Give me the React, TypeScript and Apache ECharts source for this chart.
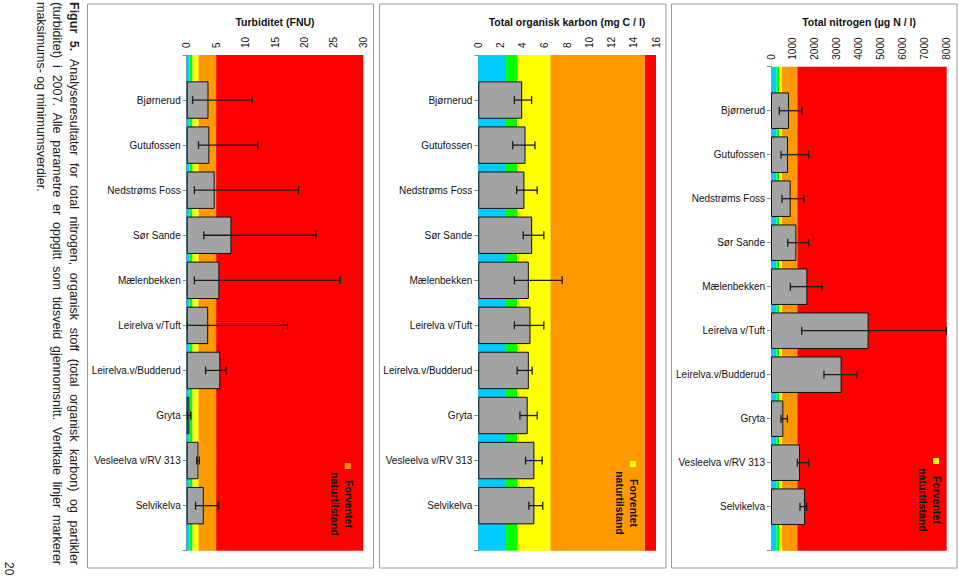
import React, { useEffect, useRef } from 'react';
import * as echarts from 'echarts';

const categories = ['Bjørnerud', 'Gutufossen', 'Nedstrøms Foss', 'Sør Sande', 'Mælenbekken', 'Leirelva v/Tuft', 'Leirelva.v/Budderud', 'Gryta', 'Vesleelva v/RV 313', 'Selvikelva'];

const turbMean = [3.7, 3.85, 4.75, 7.6, 5.55, 3.65, 5.7, 0.45, 2.0, 2.9];
const turbMin = [1.0, 2.0, 1.3, 2.9, 1.3, 0.1, 3.2, 0.1, 1.7, 1.5];
const turbMax = [11.1, 12.1, 19.0, 22.0, 26.1, 17.1, 6.7, 0.7, 2.15, 5.4];

const tocMean = [3.95, 4.25, 4.15, 4.85, 4.55, 4.7, 4.55, 4.45, 5.05, 5.05];
const tocMin = [3.25, 3.1, 3.45, 4.05, 3.25, 3.25, 3.5, 3.75, 4.25, 4.55];
const tocMax = [4.8, 5.1, 5.3, 5.9, 7.55, 5.9, 4.85, 5.3, 5.75, 5.8];

const tnMean = [820, 775, 895, 1155, 1655, 4445, 3215, 560, 1320, 1550];
const tnMin = [380, 455, 500, 760, 880, 1400, 2410, 455, 1200, 1320];
const tnMax = [1410, 1715, 1500, 1715, 2320, 7990, 3915, 745, 1715, 1625];

const turbClasses = [0, 0.5, 1, 2, 5, 30];
const tocClasses = [0, 2.5, 3.5, 6.5, 15, 16];
const tnClasses = [0, 250, 375, 500, 1200, 8000];
const classColors = ['#00CCFF', '#00FF00', '#FFFF00', '#FF9900', '#FF0000'];

const titles = ['Turbiditet (FNU)', 'Total organisk karbon (mg C / l)', 'Total nitrogen (µg N / l)'];
const axisMax = [30, 16, 8000];
const axisInterval = [5, 2, 1000];
const legendText = 'Forventet\nnaturtilstand';
const legendColors = ['#FF9900', '#FFFF00', '#FFFF00'];

const captionLines = [
  'Figur 5. Analyseresultater for total nitrogen, organisk stoff (total organisk karbon) og partikler',
  '(turbiditet) i 2007. Alle parametre er oppgitt som tidsveid gjennomsnitt. Vertikale linjer markerer',
  'maksimums- og minimumsverdier.',
];
const pageNumber = '20';

const FONT = "'Liberation Sans', Arial, sans-serif";

// layout (pixels)
const grids = [
  { left: 186.7, top: 55, width: 176.6, height: 495.7 },
  { left: 478.3, top: 55, width: 177.7, height: 495.7 },
  { left: 771, top: 66.7, width: 175.7, height: 484 },
];
const panelRects = [
  { x: 87.5, y: 4, width: 286, height: 564 },
  { x: 379.5, y: 4, width: 286.5, height: 564 },
  { x: 671.5, y: 4, width: 285.5, height: 564 },
];
const titlePos = [[275, 21.5], [567, 21.5], [859, 21.5]];
const legendSquare = [[347.7, 466], [633, 464], [936, 461]];
const legendTextPos = [[342, 504], [627, 503], [929.5, 500]];

export default function App() {
  const ref = useRef<HTMLDivElement>(null);
  useEffect(() => {
    if (!ref.current) return;
    const chart = echarts.init(ref.current, null, { renderer: 'svg' });

    const yData = ['', ...categories, ' '];
    const means = [turbMean, tocMean, tnMean];
    const mins = [turbMin, tocMin, tnMin];
    const maxs = [turbMax, tocMax, tnMax];
    const classes = [turbClasses, tocClasses, tnClasses];

    const series: any[] = [];
    for (let p = 0; p < 3; p++) {
      const cls = classes[p];
      series.push({
        type: 'bar',
        xAxisIndex: p,
        yAxisIndex: p,
        z: 2,
        barWidth: '83%',
        data: ['-', ...means[p], '-'],
        itemStyle: { color: '#A3A3A3', borderColor: '#111', borderWidth: 1 },
        markArea: {
          silent: true,
          z: 1,
          data: classColors.map((c, i) => [
            { xAxis: cls[i], itemStyle: { color: c, opacity: 1 } },
            { xAxis: cls[i + 1] },
          ]),
        },
      });
      series.push({
        type: 'custom',
        xAxisIndex: p,
        yAxisIndex: p,
        z: 3,
        encode: { x: [1, 2], y: 0 },
        data: categories.map((_, i) => [i + 1, mins[p][i], maxs[p][i]]),
        renderItem: (params: any, api: any) => {
          const c = api.value(0);
          const lo = api.coord([api.value(1), c]);
          const hi = api.coord([api.value(2), c]);
          const h = 4;
          const style = { stroke: '#1a1a1a', lineWidth: 1.3 };
          return {
            type: 'group',
            children: [
              { type: 'line', shape: { x1: lo[0], y1: lo[1], x2: hi[0], y2: hi[1] }, style },
              { type: 'line', shape: { x1: lo[0], y1: lo[1] - h, x2: lo[0], y2: lo[1] + h }, style },
              { type: 'line', shape: { x1: hi[0], y1: hi[1] - h, x2: hi[0], y2: hi[1] + h }, style },
            ],
          };
        },
      });
    }

    // caption, justified word by word
    const canvas = document.createElement('canvas');
    const ctx = canvas.getContext('2d')!;
    const capSize = 12.5;
    const capStart = 2;
    const capEnd = 565;
    const capX = [73.5, 57, 40.5];
    const graphics: any[] = [];
    captionLines.forEach((line, li) => {
      const words = line.split(' ');
      const fonts = words.map((w, wi) => (li === 0 && wi < 2 ? `bold ${capSize}px ${FONT}` : `${capSize}px ${FONT}`));
      const widths = words.map((w, wi) => {
        ctx.font = fonts[wi];
        return ctx.measureText(w).width;
      });
      const total = widths.reduce((a, b) => a + b, 0);
      ctx.font = `${capSize}px ${FONT}`;
      const normalSpace = ctx.measureText(' ').width;
      const justify = li < captionLines.length - 1;
      const gap = justify ? (capEnd - capStart - total) / (words.length - 1) : normalSpace;
      let pos = capStart;
      words.forEach((w, wi) => {
        graphics.push({
          type: 'text',
          x: capX[li],
          y: pos,
          rotation: -Math.PI / 2,
          style: { text: w, font: fonts[wi], fill: '#222', textAlign: 'left', textVerticalAlign: 'middle' },
        });
        pos += widths[wi] + gap;
      });
    });
    graphics.push({
      type: 'text', x: 9, y: 562, rotation: -Math.PI / 2,
      style: { text: pageNumber, font: `12px ${FONT}`, fill: '#222', textAlign: 'left', textVerticalAlign: 'middle' },
    });

    for (let p = 0; p < 3; p++) {
      graphics.push({
        type: 'rect', shape: panelRects[p], z: 0,
        style: { fill: 'none', stroke: '#9a9a9a', lineWidth: 1 },
      });
      graphics.push({
        type: 'text', x: titlePos[p][0], y: titlePos[p][1],
        style: { text: titles[p], font: `bold 10.5px ${FONT}`, fill: '#111', textAlign: 'center', textVerticalAlign: 'middle' },
      });
      graphics.push({
        type: 'rect', z: 10,
        shape: { x: legendSquare[p][0] - 3, y: legendSquare[p][1] - 3, width: 6, height: 6 },
        style: { fill: legendColors[p] },
      });
      graphics.push({
        type: 'text', z: 10, x: legendTextPos[p][0], y: legendTextPos[p][1], rotation: -Math.PI / 2,
        style: {
          text: legendText, font: `bold 10.5px ${FONT}`, fill: '#111',
          textAlign: 'center', textVerticalAlign: 'middle', lineHeight: 14,
        },
      });
    }

    chart.setOption({
      animation: false,
      backgroundColor: '#fff',
      grid: grids.map((g) => ({ ...g, containLabel: false })),
      xAxis: [0, 1, 2].map((p) => ({
        type: 'value',
        gridIndex: p,
        position: 'top',
        min: 0,
        max: axisMax[p],
        interval: axisInterval[p],
        splitLine: { show: false },
        axisLine: { show: false },
        axisTick: { show: false },
        axisLabel: {
          rotate: -90, fontSize: 10, fontFamily: FONT, color: '#111', margin: 7,
          formatter: (v: number) => String(v),
        },
      })),
      yAxis: [0, 1, 2].map((p) => ({
        type: 'category',
        gridIndex: p,
        inverse: true,
        boundaryGap: false,
        data: yData,
        axisLine: { show: true, lineStyle: { color: '#888', width: 1 } },
        axisTick: { show: true, length: 4, lineStyle: { color: '#888' } },
        axisLabel: { fontSize: 10, fontFamily: FONT, color: '#111', margin: 6 },
        splitLine: { show: false },
      })),
      series,
      graphic: graphics,
    });

    return () => chart.dispose();
  }, []);
  return <div ref={ref} style={{ position: 'fixed', left: 0, top: 0, width: 959, height: 577, background: '#fff' }} />;
}
